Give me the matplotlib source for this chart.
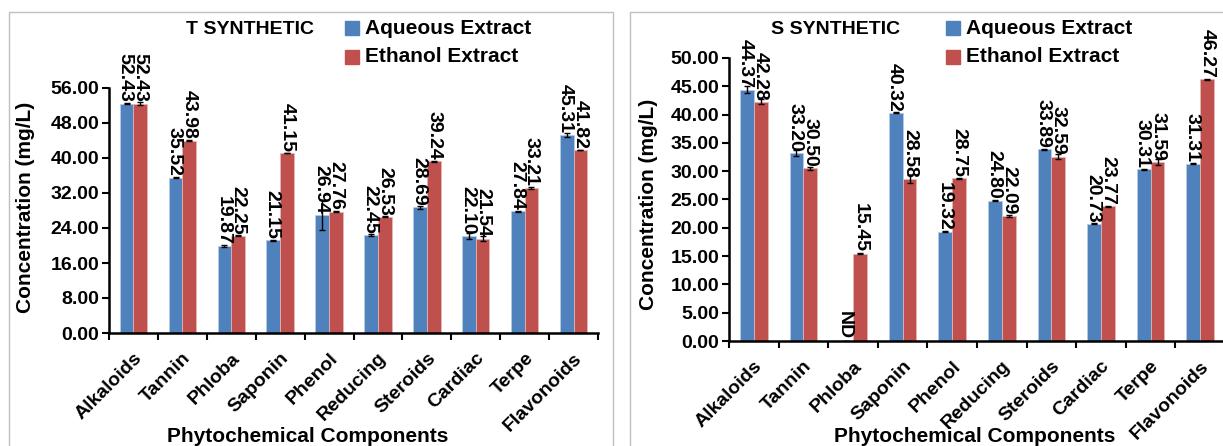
import numpy as np
import matplotlib.pyplot as plt
from matplotlib.patches import Rectangle
from matplotlib.ticker import FormatStrFormatter

plt.rcParams['font.family'] = ['Liberation Sans', 'DejaVu Sans']
plt.rcParams['font.weight'] = 'bold'

components = ["Alkaloids", "Tannin", "Phloba", "Saponin", "Phenol",
              "Reducing", "Steroids", "Cardiac", "Terpe", "Flavonoids"]

# T synthetic (mg/L)
t_aqueous = [52.43, 35.52, 19.87, 21.15, 26.94, 22.45, 28.69, 22.10, 27.84, 45.31]
t_ethanol = [52.43, 43.98, 22.25, 41.15, 27.76, 26.53, 39.24, 21.54, 33.21, 41.82]
t_aqueous_err = [0.15, 0.2, 0.3, 0.1, 3.4, 0.2, 0.25, 0.7, 0.1, 0.45]
t_ethanol_err = [0.4, 0.2, 0.1, 0.1, 0.1, 0.1, 0.1, 0.6, 0.25, 0.1]

# S synthetic (mg/L), Phloba not detected in aqueous extract
s_aqueous = [44.37, 33.20, 0.0, 40.32, 19.32, 24.80, 33.89, 20.73, 30.31, 31.31]
s_ethanol = [42.28, 30.50, 15.45, 28.58, 28.75, 22.09, 32.59, 23.77, 31.59, 46.27]
s_aqueous_err = [0.6, 0.6, 0.0, 0.1, 0.1, 0.1, 0.1, 0.1, 0.1, 0.1]
s_ethanol_err = [0.45, 0.25, 0.1, 0.7, 0.1, 0.1, 0.4, 0.1, 0.5, 0.1]

blue = '#4F81BD'
red = '#C0504D'
W, H = 1223, 446
FS = 14

fig = plt.figure(figsize=(12.23, 4.46), dpi=100)

# chart area frames
fig.add_artist(Rectangle((9 / W, -0.1), (613 - 9) / W, 1.1 - 12 / H, transform=fig.transFigure,
                         fill=False, edgecolor='#BFBFBF', lw=1))
fig.add_artist(Rectangle((630 / W, -0.1), 0.5, 1.1 - 12 / H, transform=fig.transFigure,
                         fill=False, edgecolor='#BFBFBF', lw=1))


def draw_panel(ax, aq, et, aq_err, et_err, ymax, step):
    x = np.arange(len(components))
    w = 0.28
    ax.bar(x - w / 2, aq, w, color=blue, edgecolor='#B9CDE5', linewidth=0.5,
           yerr=aq_err, error_kw=dict(ecolor='black', elinewidth=1, capsize=2, capthick=1))
    ax.bar(x + w / 2, et, w, color=red, edgecolor='#E6B9B8', linewidth=0.5,
           yerr=et_err, error_kw=dict(ecolor='black', elinewidth=1, capsize=2, capthick=1))
    for xi, v in zip(x - w / 2, aq):
        txt = 'ND' if v == 0 else f'{v:.2f}'
        ax.annotate(txt, (xi, v), xytext=(-1, 1), textcoords='offset points',
                    rotation=-90, ha='center', va='bottom', fontsize=FS,
                    fontweight='bold', clip_on=False)
    for xi, v in zip(x + w / 2, et):
        ax.annotate(f'{v:.2f}', (xi, v), xytext=(0, 1), textcoords='offset points',
                    rotation=-90, ha='center', va='bottom', fontsize=FS,
                    fontweight='bold', clip_on=False)

    ax.set_xlim(-0.5, len(components) - 0.5)
    ax.set_ylim(0, ymax)
    ax.set_yticks(np.arange(0, ymax + 0.01, step))
    ax.yaxis.set_major_formatter(FormatStrFormatter('%.2f'))
    ax.set_xticks(x)
    ax.set_xticklabels(components, rotation=45, ha='right', rotation_mode='anchor')
    ax.set_xticks(np.arange(-0.5, len(components)), minor=True)
    ax.tick_params(axis='x', which='major', length=0, pad=12, labelsize=FS)
    ax.tick_params(axis='x', which='minor', length=5, width=1.5, direction='out')
    ax.tick_params(axis='y', length=5, width=1.5, labelsize=FS, pad=2)
    for s in ['top', 'right']:
        ax.spines[s].set_visible(False)
    for s in ['left', 'bottom']:
        ax.spines[s].set_linewidth(1.8)
    for lab in ax.get_xticklabels() + ax.get_yticklabels():
        lab.set_fontweight('bold')


ax1 = fig.add_axes([109 / W, (H - 333) / H, 489 / W, 245 / H])
draw_panel(ax1, t_aqueous, t_ethanol, t_aqueous_err, t_ethanol_err, 56, 8)

ax2 = fig.add_axes([729 / W, (H - 341) / H, 496 / W, 283 / H])
draw_panel(ax2, s_aqueous, s_ethanol, s_aqueous_err, s_ethanol_err, 50, 5)

# titles, axis titles
fig.text(250 / W, 1 - 29 / H, 'T SYNTHETIC', ha='center', va='center', fontsize=14, fontweight='bold')
fig.text(836 / W, 1 - 29 / H, 'S SYNTHETIC', ha='center', va='center', fontsize=14, fontweight='bold')
for cx in (308, 975):
    fig.text(cx / W, 1 - 436 / H, 'Phytochemical Components', ha='center', va='center',
             fontsize=15, fontweight='bold')
for cx, cy in ((26, 207), (649, 204)):
    fig.text(cx / W, 1 - cy / H, 'Concentration (mg/L)', ha='center', va='center',
             rotation=90, fontsize=15, fontweight='bold')

# legends
for sx in (345, 946):
    for row, (col, name) in enumerate([(blue, 'Aqueous Extract'), (red, 'Ethanol Extract')]):
        cy = 28 + row * 29
        fig.add_artist(Rectangle((sx / W, 1 - (cy + 7) / H), 14 / W, 14 / H,
                                 transform=fig.transFigure, color=col))
        fig.text((sx + 20) / W, 1 - cy / H, name, ha='left', va='center',
                 fontsize=15, fontweight='bold')

fig.savefig('out.png', dpi=100)
